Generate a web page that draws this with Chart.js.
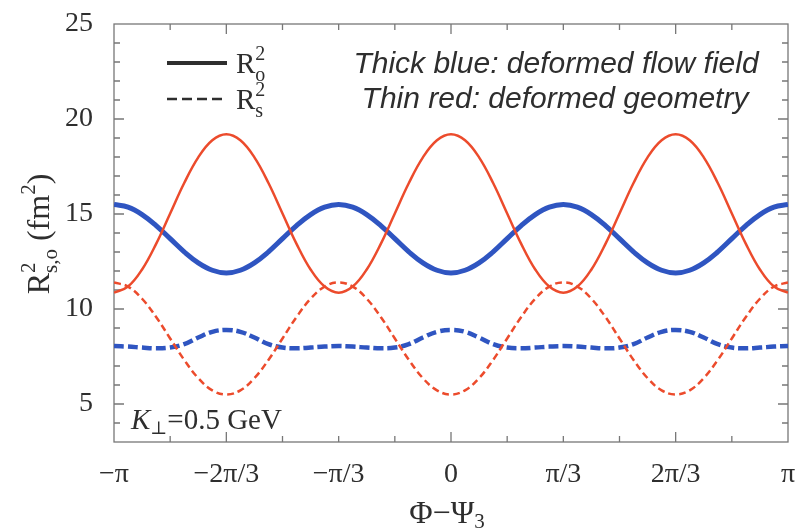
<!DOCTYPE html>
<html>
<head>
<meta charset="utf-8">
<script src="https://cdn.jsdelivr.net/npm/chart.js@4.4.1/dist/chart.umd.min.js"></script>
<style>
  body { margin: 0; background: #fff; }
  canvas { display: block; }
</style>
</head>
<body>
<canvas id="hbtChart" width="804" height="532"></canvas>
<script>
// Phi - Psi_3 in steps of pi/24, from -pi to pi
const phase = [-24,-23,-22,-21,-20,-19,-18,-17,-16,-15,-14,-13,-12,-11,-10,-9,
               -8,-7,-6,-5,-4,-3,-2,-1,0,1,2,3,4,5,6,7,
               8,9,10,11,12,13,14,15,16,17,18,19,20,21,22,23,24];
const tickSteps = [-24, -16, -8, 0, 8, 16, 24];
const tickLabels = ['\u2212\u03c0', '\u22122\u03c0/3', '\u2212\u03c0/3', '0', '\u03c0/3', '2\u03c0/3', '\u03c0'];
const yTicks = [5, 10, 15, 20, 25];

// thick blue: deformed flow field
const roBlue = [15.5,15.36,14.97,14.39,13.7,13.01,12.43,12.04,11.9,12.04,12.43,13.01,13.7,14.39,14.97,15.36,
                15.5,15.36,14.97,14.39,13.7,13.01,12.43,12.04,11.9,12.04,12.43,13.01,13.7,14.39,14.97,15.36,
                15.5,15.36,14.97,14.39,13.7,13.01,12.43,12.04,11.9,12.04,12.43,13.01,13.7,14.39,14.97,15.36,
                15.5];
const rsBlue = [8.05,8.02,7.97,7.93,7.97,8.15,8.5,8.8,8.9,8.8,8.5,8.15,7.97,7.93,7.97,8.02,
                8.05,8.02,7.97,7.93,7.97,8.15,8.5,8.8,8.9,8.8,8.5,8.15,7.97,7.93,7.97,8.02,
                8.05,8.02,7.97,7.93,7.97,8.15,8.5,8.8,8.9,8.8,8.5,8.15,7.97,7.93,7.97,8.02,
                8.05];
// thin red: deformed geometry
const roRed = [10.86,11.18,12.08,13.43,15.03,16.63,17.98,18.88,19.2,18.88,17.98,16.63,15.03,13.43,12.08,11.18,
               10.86,11.18,12.08,13.43,15.03,16.63,17.98,18.88,19.2,18.88,17.98,16.63,15.03,13.43,12.08,11.18,
               10.86,11.18,12.08,13.43,15.03,16.63,17.98,18.88,19.2,18.88,17.98,16.63,15.03,13.43,12.08,11.18,
               10.86];
const rsRed = [11.4,11.18,10.54,9.58,8.45,7.32,6.36,5.72,5.5,5.72,6.36,7.32,8.45,9.58,10.54,11.18,
               11.4,11.18,10.54,9.58,8.45,7.32,6.36,5.72,5.5,5.72,6.36,7.32,8.45,9.58,10.54,11.18,
               11.4,11.18,10.54,9.58,8.45,7.32,6.36,5.72,5.5,5.72,6.36,7.32,8.45,9.58,10.54,11.18,
               11.4];

const BLUE = '#2f55c1';
const RED = '#ec4b2c';
const TEXT = '#2e2e2e';
const SERIF = '"Liberation Serif", "DejaVu Serif", serif';
const SANS = '"Liberation Sans", Arial, sans-serif';

function toPoints(values) {
  return phase.map((k, i) => ({ x: k, y: values[i] }));
}

// draw text pieces left to right; an array entry is a stacked sup/sub pair
function richText(ctx, x, y, parts, align) {
  const widths = parts.map(p => {
    const list = Array.isArray(p) ? p : [p];
    return Math.max(...list.map(q => { ctx.font = q.f; return ctx.measureText(q.t).width; }));
  });
  const total = widths.reduce((s, w) => s + w, 0);
  let cx = align === 'center' ? x - total / 2 : x;
  parts.forEach((p, i) => {
    (Array.isArray(p) ? p : [p]).forEach(q => {
      ctx.font = q.f;
      ctx.fillText(q.t, cx, y + (q.dy || 0));
    });
    cx += widths[i];
  });
}

const framePlugin = {
  id: 'frame',
  beforeDatasetsDraw(chart) {
    const { ctx, chartArea: a, scales: { x, y } } = chart;
    ctx.save();
    ctx.strokeStyle = '#777';
    ctx.lineWidth = 1.3;
    ctx.strokeRect(a.left, a.top, a.right - a.left, a.bottom - a.top);
    ctx.beginPath();
    for (let k = -20; k <= 20; k += 4) {
      const px = x.getPixelForValue(k);
      const len = k % 16 === 0 ? 10 : 6;
      ctx.moveTo(px, a.bottom); ctx.lineTo(px, a.bottom - len);
      ctx.moveTo(px, a.top); ctx.lineTo(px, a.top + len);
    }
    for (let v = 4; v <= 24; v++) {
      const py = y.getPixelForValue(v);
      const len = v % 5 === 0 ? 10 : 6;
      ctx.moveTo(a.left, py); ctx.lineTo(a.left + len, py);
      ctx.moveTo(a.right, py); ctx.lineTo(a.right - len, py);
    }
    ctx.stroke();
    ctx.restore();
  },
  afterDraw(chart) {
    const { ctx } = chart;
    ctx.save();
    ctx.fillStyle = TEXT;
    ctx.textBaseline = 'alphabetic';
    ctx.textAlign = 'left';

    // legend
    ctx.strokeStyle = TEXT;
    ctx.lineWidth = 4;
    ctx.beginPath(); ctx.moveTo(167, 63); ctx.lineTo(227, 63); ctx.stroke();
    ctx.lineWidth = 2.5;
    ctx.setLineDash([10, 5]);
    ctx.beginPath(); ctx.moveTo(167, 99); ctx.lineTo(227, 99); ctx.stroke();
    ctx.setLineDash([]);
    richText(ctx, 236, 73, [
      { t: 'R', f: '29px ' + SERIF },
      [{ t: '2', f: '20px ' + SERIF, dy: -13 }, { t: 'o', f: '20px ' + SERIF, dy: 8 }]
    ]);
    richText(ctx, 236, 109, [
      { t: 'R', f: '29px ' + SERIF },
      [{ t: '2', f: '20px ' + SERIF, dy: -13 }, { t: 's', f: '20px ' + SERIF, dy: 8 }]
    ]);

    // notes
    ctx.font = 'italic 30px ' + SANS;
    ctx.textAlign = 'center';
    ctx.fillText('Thick blue: deformed flow field', 556, 73);
    ctx.fillText('Thin red: deformed geometry', 555, 108);
    ctx.textAlign = 'left';

    richText(ctx, 131, 429, [
      { t: 'K', f: 'italic 29px ' + SERIF },
      { t: '\u22a5', f: '18px ' + SERIF, dy: 5 },
      { t: '=0.5 GeV', f: '29px ' + SERIF }
    ]);

    // x axis title
    richText(ctx, 447, 523, [
      { t: '\u03a6\u2212\u03a8', f: '32px ' + SERIF },
      { t: '3', f: '21px ' + SERIF, dy: 5 }
    ], 'center');

    // y axis title
    ctx.translate(49, 234);
    ctx.rotate(-Math.PI / 2);
    richText(ctx, 0, 0, [
      { t: 'R', f: '32px ' + SERIF },
      [{ t: '2', f: '21px ' + SERIF, dy: -14 }, { t: 's,o', f: '21px ' + SERIF, dy: 8 }],
      { t: ' (fm', f: '32px ' + SERIF },
      { t: '2', f: '21px ' + SERIF, dy: -14 },
      { t: ')', f: '32px ' + SERIF }
    ], 'center');
    ctx.restore();
  }
};

function line(label, values, color, width, dash) {
  return {
    label,
    data: toPoints(values),
    borderColor: color,
    borderWidth: width,
    borderDash: dash,
    pointRadius: 0,
    tension: 0.4,
    fill: false
  };
}

new Chart(document.getElementById('hbtChart').getContext('2d'), {
  type: 'line',
  data: {
    datasets: [
      line('Rs2 geometry', rsRed, RED, 2.5, [7, 4]),
      line('Ro2 geometry', roRed, RED, 2.5, []),
      line('Rs2 flow', rsBlue, BLUE, 4.5, [10, 4]),
      line('Ro2 flow', roBlue, BLUE, 5, [])
    ]
  },
  options: {
    responsive: false,
    animation: false,
    layout: { padding: { top: 24, right: 16, left: 0, bottom: 0 } },
    plugins: { legend: { display: false }, tooltip: { enabled: false } },
    scales: {
      x: {
        type: 'linear',
        min: -24,
        max: 24,
        afterBuildTicks: s => { s.ticks = tickSteps.map(v => ({ value: v })); },
        afterFit: s => { s.height = 90; s.paddingLeft = 0; s.paddingRight = 0; },
        grid: { display: false },
        border: { display: false },
        ticks: {
          color: TEXT,
          font: { family: SERIF, size: 28 },
          padding: 8,
          maxRotation: 0,
          autoSkip: false,
          callback: v => tickLabels[tickSteps.indexOf(v)]
        }
      },
      y: {
        min: 3,
        max: 25,
        afterBuildTicks: s => { s.ticks = yTicks.map(v => ({ value: v })); },
        afterFit: s => { s.width = 114; s.paddingTop = 0; s.paddingBottom = 0; },
        grid: { display: false },
        border: { display: false },
        ticks: {
          color: TEXT,
          font: { family: SERIF, size: 28 },
          padding: 13
        }
      }
    }
  },
  plugins: [framePlugin]
});
</script>
</body>
</html>
